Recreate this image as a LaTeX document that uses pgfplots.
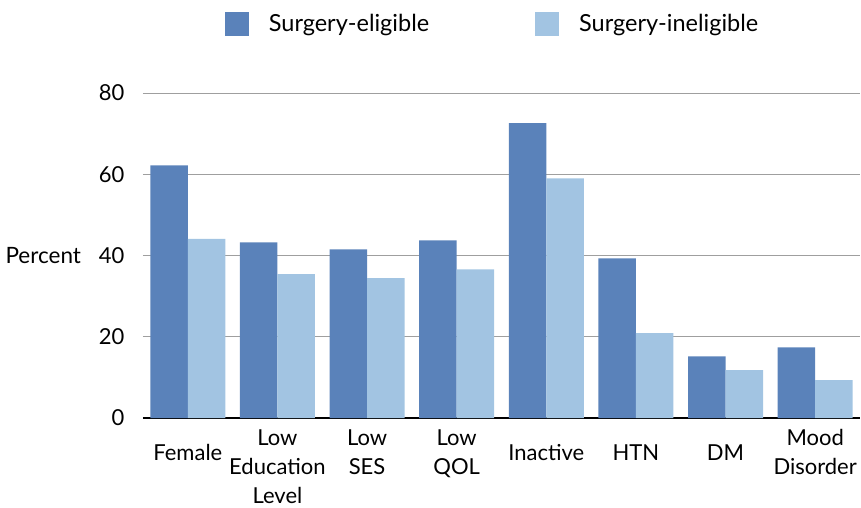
\documentclass[border=0pt]{standalone}
\usepackage{pgfplots}
\pgfplotsset{compat=1.18}
\usepackage{fontspec}
\setmainfont{Lato}
\definecolor{eligible}{RGB}{90,130,186}
\definecolor{ineligible}{RGB}{162,196,226}
\newcommand{\firstl}{\rule{0pt}{20pt}}
\newcommand{\singl}{\rule{0pt}{34.5pt}}
\begin{document}
\begin{tikzpicture}
\begin{axis}[
  name=ax,
  scale only axis,
  width=717pt, height=325pt,
  xmin=-0.5, xmax=7.5,
  ymin=0, ymax=80,
  ybar=0pt,
  bar width=37.5pt,
  axis x line=bottom,
  axis y line=left,
  x axis line style={black, line width=1.2pt, -},
  y axis line style={draw=none},
  xtick=data,
  xtick style={draw=none},
  ytick={0,20,40,60,80},
  ytick style={draw=none},
  ymajorgrids,
  major grid style={draw=gray!75, line width=0.8pt},
  /pgf/number format/assume math mode=true,
  tick label style={font=\fontsize{22}{29}\selectfont, text=black},
  yticklabel style={xshift=-13pt},
  xticklabel style={anchor=north, align=center, yshift=-2pt},
  xticklabels={{\singl Female},{\firstl Low\\Education\\Level},{\firstl Low\\SES},{\firstl Low\\QOL},{\singl Inactive},{\singl HTN},{\singl DM},{\firstl Mood\\Disorder}},
  ylabel={Percent},
  every axis y label/.style={at={(ticklabel cs:0.5)}, anchor=east, xshift=-11pt, font=\fontsize{22.5}{29}\selectfont},
  legend columns=2,
  legend style={at={(0.4875,1.0)}, anchor=south, yshift=55pt, draw=none, fill=none,
    font=\fontsize{23.5}{29}\selectfont,
    /tikz/every even column/.append style={column sep=104pt},
    /tikz/every odd column/.append style={column sep=18pt}},
  legend image code/.code={\fill[#1] (0pt,-12pt) rectangle (24pt,12pt);},
]
\addplot[fill=eligible, draw=none] coordinates {(0,62.2) (1,43.2) (2,41.5) (3,43.7) (4,72.6) (5,39.3) (6,15.2) (7,17.4)};
\addplot[fill=ineligible, draw=none] coordinates {(0,44.1) (1,35.4) (2,34.4) (3,36.6) (4,59.0) (5,20.9) (6,11.8) (7,9.3)};
\legend{Surgery-eligible, Surgery-ineligible}
\end{axis}
\pgfresetboundingbox
\path[use as bounding box] ([shift={(-143pt,-90pt)}]ax.south west) rectangle ([shift={(718pt,418pt)}]ax.south west);
\end{tikzpicture}
\end{document}
